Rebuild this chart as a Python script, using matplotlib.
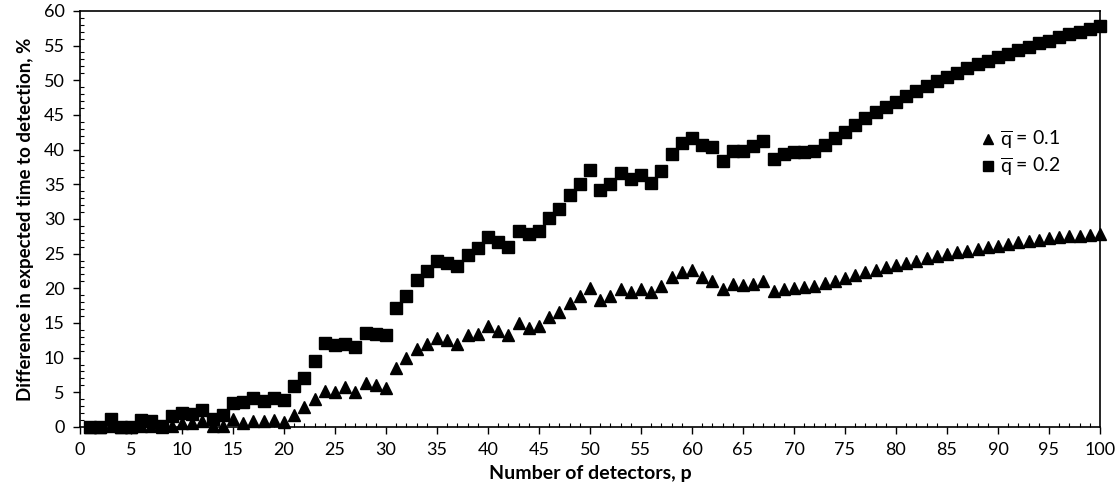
import matplotlib
matplotlib.use("Agg")
import matplotlib.pyplot as plt
from matplotlib.ticker import MultipleLocator

plt.rcParams['font.family'] = ['Lato', 'DejaVu Sans']
plt.rcParams['mathtext.fontset'] = 'custom'
plt.rcParams['mathtext.rm'] = 'Lato'

p = list(range(1, 101))

# q = 0.1
diff_q01 = [
    0.0, 0.0, 0.1, 0.0, 0.0, 0.1, 0.2, 0.0, 0.2, 0.6,
    0.5, 0.9, 0.1, 0.2, 1.2, 0.6, 0.8, 0.9, 1.0, 0.7,
    1.7, 2.9, 4.0, 5.2, 5.0, 5.8, 5.1, 6.4, 6.1, 5.6,
    8.5, 9.9, 11.3, 12.0, 12.8, 12.6, 12.0, 13.2, 13.4, 14.5,
    13.8, 13.3, 15.0, 14.3, 14.6, 15.8, 16.6, 17.8, 18.9, 20.0,
    18.3, 18.9, 19.9, 19.5, 19.9, 19.4, 20.3, 21.6, 22.3, 22.6,
    21.6, 21.1, 19.9, 20.6, 20.4, 20.6, 21.1, 19.6, 19.9, 20.1,
    20.2, 20.3, 20.7, 21.1, 21.5, 21.9, 22.3, 22.7, 23.1, 23.4,
    23.7, 24.0, 24.3, 24.6, 24.9, 25.2, 25.4, 25.7, 25.9, 26.1,
    26.4, 26.6, 26.8, 27.0, 27.2, 27.4, 27.5, 27.6, 27.7, 27.8,
]

# q = 0.2
diff_q02 = [
    0.0, 0.0, 1.1, 0.0, 0.0, 1.0, 0.8, 0.2, 1.6, 2.0,
    1.8, 2.4, 1.2, 1.7, 3.5, 3.6, 4.2, 3.8, 4.2, 3.9,
    5.9, 7.1, 9.5, 12.1, 11.8, 12.0, 11.5, 13.5, 13.4, 13.2,
    17.1, 18.9, 21.2, 22.5, 24.0, 23.6, 23.2, 24.8, 25.8, 27.4,
    26.7, 26.0, 28.2, 27.8, 28.3, 30.1, 31.4, 33.4, 35.1, 37.1,
    34.2, 35.0, 36.6, 35.8, 36.4, 35.2, 36.9, 39.3, 40.9, 41.7,
    40.6, 40.3, 38.4, 39.8, 39.8, 40.5, 41.3, 38.7, 39.3, 39.7,
    39.7, 39.8, 40.7, 41.7, 42.6, 43.6, 44.5, 45.4, 46.2, 46.9,
    47.7, 48.5, 49.2, 49.9, 50.5, 51.1, 51.7, 52.3, 52.8, 53.3,
    53.8, 54.3, 54.8, 55.3, 55.7, 56.2, 56.6, 57.0, 57.4, 57.8,
]

fig = plt.figure(figsize=(11.2, 4.93), dpi=100)
ax = fig.add_axes([0.0714, 0.134, 0.9107, 0.844])

ax.plot(p, diff_q01, linestyle='none', marker='^', markersize=8.5,
        color='black', label=r'$\overline{\mathrm{q}}$ = 0.1', clip_on=False)
ax.plot(p, diff_q02, linestyle='none', marker='s', markersize=8,
        color='black', label=r'$\overline{\mathrm{q}}$ = 0.2', clip_on=False)

ax.set_xlim(0, 100)
ax.set_ylim(0, 60)
ax.xaxis.set_major_locator(MultipleLocator(5))
ax.xaxis.set_minor_locator(MultipleLocator(1))
ax.yaxis.set_major_locator(MultipleLocator(5))
ax.yaxis.set_minor_locator(MultipleLocator(1))
ax.tick_params(which='major', direction='out', length=5, width=1,
               labelsize=13, pad=6)
ax.tick_params(which='minor', direction='in', length=3, width=0.8)
ax.tick_params(axis='x', which='both', top=False)
ax.tick_params(axis='y', which='both', right=False)

for s in ax.spines.values():
    s.set_linewidth(1.2)

ax.set_xlabel('Number of detectors, p', fontsize=14, fontweight='bold', labelpad=5)
ax.set_ylabel('Difference in expected time to detection, %', fontsize=13.5,
              fontweight='bold', labelpad=7)

ax.legend(loc='upper left', bbox_to_anchor=(0.875, 0.74), frameon=False,
          fontsize=14, handlelength=0.6, handletextpad=0.3, labelspacing=0.2,
          borderpad=0, markerscale=0.85)

fig.savefig('out.png', dpi=100)
